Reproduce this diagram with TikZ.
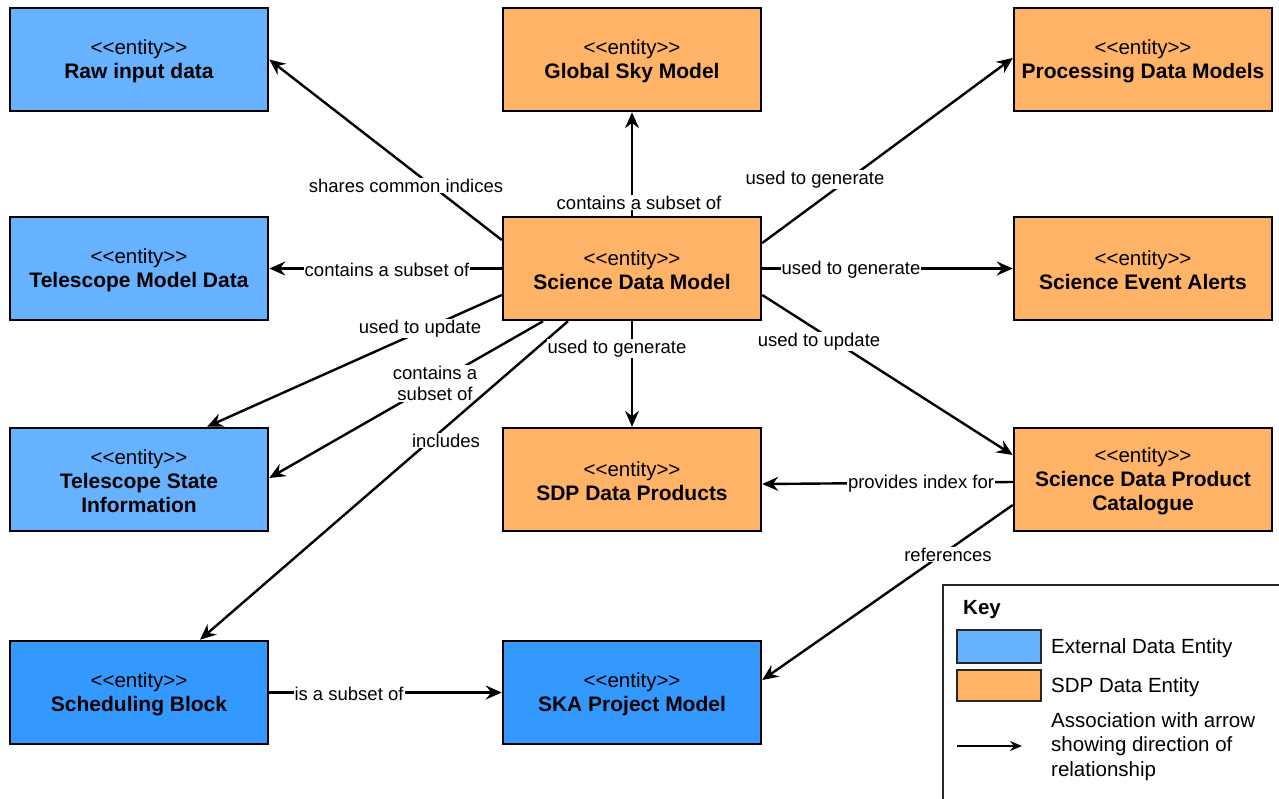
\documentclass[tikz,border=0pt]{standalone}
\usepackage{fontspec}
\setmainfont{Liberation Sans}
\usetikzlibrary{arrows.meta,calc}
\definecolor{extblue}{HTML}{66B2FF}
\definecolor{schblue}{HTML}{3399FF}
\definecolor{sdporange}{HTML}{FFB366}
\newcommand{\ent}{<\kern0pt<entity>\kern0pt>}
\tikzset{
 ent/.style={draw=black, line width=2.5pt, minimum width=258pt, minimum height=103pt, inner sep=0pt},
 entxt/.style={align=center, inner sep=0pt, font=\fontsize{20.5}{24}\selectfont},
 ext/.style={ent, fill=extblue},
 sch/.style={ent, fill=schblue},
 sdp/.style={ent, fill=sdporange},
 conn/.style={line width=2.4pt, -{Stealth[length=16pt,width=14pt,inset=5.5pt]}},
 lbl/.style={fill=white, inner sep=1pt, yshift=-1.5pt, font=\fontsize{18.5}{21}\selectfont, align=center},
 keytxt/.style={anchor=west, inner sep=0pt, yshift=-1.5pt, align=left, font=\fontsize{20.5}{24.5}\selectfont},
}
\newcommand{\nm}[1]{\fontsize{21}{24}\selectfont\bfseries #1}
% #1 style, #2 name, #3 position, #4 text
\newcommand{\entity}[4]{\node[#1] (#2) at (#3) {};
  \node[entxt] (#2t) at ([yshift=-1.8pt]#2.center) {\ent\\#4};}
\begin{document}
\begin{tikzpicture}[x=1pt,y=-1pt]
\useasboundingbox (0,0) rectangle (1279,798);
% entities
\entity{ext}{raw}{139,59.5}{\nm{Raw input data}}
\entity{ext}{tmd}{139,268.5}{\nm{Telescope Model Data}}
\entity{ext}{tsi}{139,479.5}{\nm{Telescope State}\\\nm{Information}}
\entity{sch}{sb}{139,692.5}{\nm{Scheduling Block}}
\entity{sdp}{gsm}{632,59.5}{\nm{Global Sky Model}}
\entity{sdp}{sdm}{632,268.5}{\nm{Science Data Model}}
\entity{sdp}{sdp}{632,479.5}{\nm{SDP Data Products}}
\entity{sch}{ska}{632,692.5}{\nm{SKA Project Model}}
\entity{sdp}{pdm}{1143,59.5}{\nm{Processing Data Models}}
\entity{sdp}{sea}{1143,268.5}{\nm{Science Event Alerts}}
\entity{sdp}{sdpc}{1143,479.5}{\nm{Science Data Product}\\\nm{Catalogue}}
% connectors
\draw[conn] ([yshift=28.5pt]sdm.west) -- (raw.east) node[lbl] (l1) at (406,184) {shares common indices};
\draw[conn] (sdm.west) -- (tmd.east) node[lbl] (l2) at (387,268) {contains a subset of};
\draw[conn] ([yshift=-26.5pt]sdm.west) -- ([xshift=68pt]tsi.north) node[lbl] (l3) at (420,327) {used to update};
\draw[conn] ([xshift=-89pt]sdm.south) -- ([yshift=1.5pt]tsi.east) node[lbl] (l4) at (435,382) {contains a\\subset of};
\draw[conn] ([xshift=-64pt]sdm.south) -- ([xshift=61pt]sb.north) node[lbl] (l5) at (446,439) {includes};
\draw[conn] (sdm.north) -- (gsm.south) node[lbl] (l6) at (639,201) {contains a subset of};
\draw[conn] ([yshift=25.5pt]sdm.east) -- ([yshift=1.5pt]pdm.west) node[lbl] (l7) at (815,178) {used to generate};
\draw[conn] (sdm.east) -- (sea.west) node[lbl] (l8) at (851,268) {used to generate};
\draw[conn] (sdm.south) -- (sdp.north) node[lbl] (l9) at (617,347) {used to generate};
\draw[conn] ([yshift=-26.5pt]sdm.east) -- ([yshift=24.5pt]sdpc.west) node[lbl] (l10) at (819,340) {used to update};
\draw[conn] ([yshift=-2.5pt]sdpc.west) -- ([yshift=-4.5pt]sdp.east) node[lbl] (l11) at (921,482) {provides index for};
\draw[conn] ([yshift=-25.5pt]sdpc.west) -- ([yshift=12.5pt]ska.east) node[lbl] (l12) at (948,553) {references};
\draw[conn] (sb.east) -- (ska.west) node[lbl] (l13) at (349,692) {is a subset of};
% key
\draw[line width=1.5pt, draw=black!85] (943,585) rectangle (1320,830);
\node[keytxt, font=\fontsize{20.5}{24}\selectfont\bfseries] (keyt) at (963,608) {Key};
\node[draw=black!85, line width=1.5pt, fill=extblue, minimum width=84pt, minimum height=33pt, inner sep=0pt] (kb) at (999,646.5) {};
\node[draw=black!85, line width=1.5pt, fill=sdporange, minimum width=84pt, minimum height=31pt, inner sep=0pt] (ko) at (999,685.5) {};
\node[keytxt] (kbt) at (1051,647) {External Data Entity};
\node[keytxt] (kot) at (1051,686) {SDP Data Entity};
\node[keytxt] (kat) at (1051,745) {Association with arrow\\showing direction of\\relationship};
\coordinate (ka) at (957,746);
\coordinate (kz) at (1022,746);
\draw[line width=2pt, -{Stealth[length=12pt,width=10pt,inset=4pt]}] (ka) -- (kz);
\end{tikzpicture}
\end{document}
